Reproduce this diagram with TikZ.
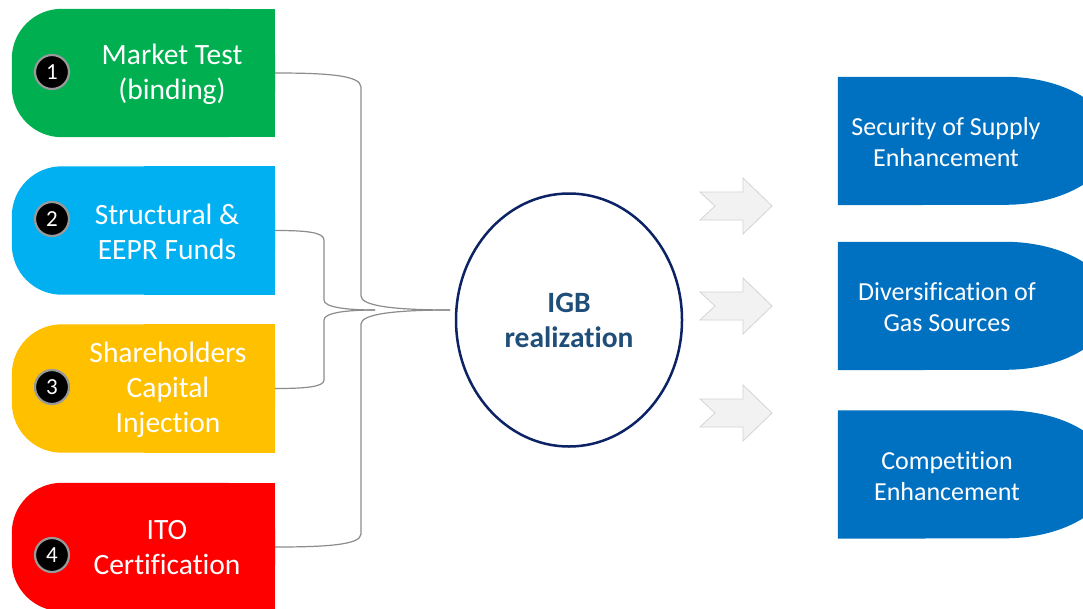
\documentclass[tikz,border=0pt]{standalone}
\usepackage{fontspec}
\setmainfont[Ligatures=NoCommon]{Carlito}
\usetikzlibrary{shapes.geometric}
\definecolor{cgreen}{HTML}{00B050}
\definecolor{cblue}{HTML}{00B0F0}
\definecolor{cyellow}{HTML}{FFC000}
\definecolor{cred}{HTML}{FF0000}
\definecolor{cright}{HTML}{0070C0}
\definecolor{cnavy}{HTML}{0B2264}
\definecolor{ctext}{HTML}{1F4E79}
\definecolor{carrowfill}{HTML}{F2F2F2}
\definecolor{carrowline}{HTML}{D4D4D4}
\definecolor{cbrace}{HTML}{8C8C8C}
\tikzset{
  boxanchor/.style={rectangle, inner sep=0pt, minimum width=263pt, minimum height=128pt},
  rboxanchor/.style={rectangle, inner sep=0pt, minimum width=167pt, minimum height=128pt},
  lefttext/.style={text=white, align=center, font=\fontsize{29.5}{35}\selectfont, inner sep=0pt},
  righttext/.style={text=white, align=center, font=\fontsize{26}{31}\selectfont, inner sep=0pt},
  numcirc/.style={circle, fill=black, draw=black!40, line width=2.2pt, minimum size=34pt, inner sep=0pt, text=white, font=\fontsize{23}{23}\selectfont},
  bracestyle/.style={draw=cbrace, line width=1.2pt},
  chevron/.style={fill=carrowfill, draw=carrowline, line width=0.8pt, line join=miter},
}
\begin{document}
\begin{tikzpicture}[x=1pt, y=-1pt]
\clip (0,0) rectangle (1083,608);
\fill[white] (0,0) rectangle (1083,608);

% left boxes (anchor nodes)
\node[boxanchor] (b1) at (143.5,73) {};
\node[boxanchor] (b2) at (143.5,230.5) {};
\node[boxanchor] (b3) at (143.5,388.5) {};
\node[boxanchor] (b4) at (143.5,547) {};
\foreach \b/\c in {b1/cgreen, b2/cblue, b3/cyellow, b4/cred}{
  \fill[\c, rounded corners=50pt] (\b.north west) rectangle (\b.south east);
  \fill[\c] (\b.north) rectangle (\b.south east);
}
\node[lefttext] (t1) at (172,74) {Market Test\\(binding)};
\node[lefttext] (t2) at (167,232) {Structural \&\\EEPR Funds};
\node[lefttext] (t3) at (168,390) {Shareholders\\Capital\\Injection};
\node[lefttext] (t4) at (167,548) {ITO\\Certification};

\node[numcirc] (n1) at (52,72) {1};
\node[numcirc] (n2) at (52,219) {2};
\node[numcirc] (n3) at (52,387) {3};
\node[numcirc] (n4) at (52,555) {4};

% ellipse
\node[ellipse, draw=cnavy, line width=2.5pt, minimum width=226pt, minimum height=253pt, inner sep=0pt,
  text=ctext, align=center, font=\bfseries\fontsize{29.5}{35}\selectfont] (e) at (569,320) {IGB\\realization};

% braces
\coordinate (tipA) at (450,310);
\coordinate (tipB) at (375,310);
\draw[bracestyle] (b1.east) .. controls (325,73) and (361,75) .. (361,87) -- (361,296)
  .. controls (361,306) and (395,310) .. (tipA);
\draw[bracestyle] (tipA) .. controls (395,310) and (361,314) .. (361,324) -- (361,534)
  .. controls (361,545) and (325,547) .. (b4.east);
\draw[bracestyle] (b2.east) .. controls (305,230.5) and (324,232) .. (324,240) -- (324,300)
  .. controls (324,307) and (345,310) .. (tipB);
\draw[bracestyle] (tipB) .. controls (345,310) and (324,313) .. (324,320) -- (324,380)
  .. controls (324,387) and (305,388.5) .. (b3.east);

% chevron arrows
\foreach \yc/\nm in {206/a1, 306/a2, 413/a3}{
  \coordinate (\nm) at (700,\yc);
  \draw[chevron] (\nm) ++(0,-14) -- ++(43,0) -- ++(0,-14) -- ++(29,28) -- ++(-29,28) -- ++(0,-14) -- ++(-43,0) -- ++(15,-14) -- cycle;
}

% right boxes
\node[rboxanchor] (r1) at (921.5,141) {};
\node[rboxanchor] (r2) at (921.5,306) {};
\node[rboxanchor] (r3) at (921.5,474.5) {};
\foreach \r in {r1, r2, r3}{
  \fill[cright] (\r.south west) -- (\r.north west) -- (\r.north east)
    arc[start angle=-90, end angle=90, x radius=107, y radius=64] -- cycle;
}
\node[righttext] (s1) at (946,142.5) {Security of Supply\\Enhancement};
\node[righttext] (s2) at (947,307.5) {Diversification of\\Gas Sources};
\node[righttext] (s3) at (947,476.5) {Competition\\Enhancement};
\end{tikzpicture}
\end{document}
